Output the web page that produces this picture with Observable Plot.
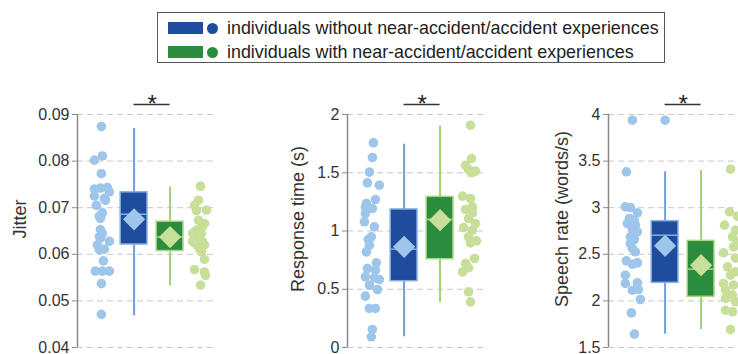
<!DOCTYPE html>
<html><head><meta charset="utf-8">
<script src="https://cdn.jsdelivr.net/npm/d3@7"></script>
<script src="https://cdn.jsdelivr.net/npm/@observablehq/plot@0.6"></script>
<style>
body{margin:0;background:#fff;}
#root{position:relative;width:738px;height:354px;overflow:hidden;font-family:"Liberation Sans",Arial,sans-serif;color:#222;}
#legend{position:absolute;left:157px;top:12px;width:508px;height:51px;box-sizing:border-box;border:1.5px solid #555;}
.lrow{position:absolute;left:0;height:14px;}
.lrect{position:absolute;left:10px;width:35px;height:12px;}
.ldot{position:absolute;left:49px;width:11px;height:11px;border-radius:50%;}
.ltxt{position:absolute;left:69px;top:-4px;font-size:17.9px;white-space:nowrap;line-height:20px;}
.panel{position:absolute;top:80px;width:222px;height:274px;}
.panel svg{max-width:none !important;}
</style></head>
<body><div id="root">
<div id="legend"></div>
</div>
<script>
// ---------- data ----------
const groups = ["individuals without near-accident/accident experiences", "individuals with near-accident/accident experiences"];
const yLabels = ["Jitter", "Response time (s)", "Speech rate (words/s)"];
const jitterTicks = [0.04, 0.05, 0.06, 0.07, 0.08, 0.09];
const responseTicks = [0, 0.5, 1, 1.5, 2];
const speechTicks = [1.5, 2, 2.5, 3, 3.5, 4];

// stats: [min, q1, median, q3, max, mean]
const jitterStatsWithout = [0.0468, 0.0621, 0.0686, 0.0733, 0.0870, 0.0675];
const jitterStatsWith = [0.0532, 0.0607, 0.0637, 0.0670, 0.0745, 0.0637];
const responseStatsWithout = [0.092, 0.569, 0.844, 1.185, 1.745, 0.864];
const responseStatsWith = [0.386, 0.758, 1.099, 1.293, 1.90, 1.093];
const speechStatsWithout = [1.643, 2.194, 2.705, 2.855, 3.385, 2.591];
const speechStatsWith = [1.693, 2.044, 2.341, 2.644, 3.40, 2.383];
const speechOutliersWithout = [3.939];

// individual values
const jitterWithout = [0.0874,0.0802,0.0811,0.0773,0.0740,0.0742,0.0743,0.0734,0.0725,0.0720,0.0716,0.0705,0.0689,0.0682,0.0677,0.0653,0.0645,0.0638,0.0635,0.0628,0.0620,0.0611,0.0610,0.0586,0.0564,0.0564,0.0564,0.0537,0.0471];
const jitterWith = [0.0746,0.0716,0.0705,0.0695,0.0694,0.0673,0.0666,0.0660,0.0652,0.0645,0.0645,0.0634,0.0627,0.0627,0.0620,0.0620,0.0612,0.0605,0.0589,0.0567,0.0562,0.0555,0.0534];
const responseWithout = [1.757,1.631,1.505,1.413,1.393,1.270,1.236,1.207,1.193,1.150,1.079,1.036,0.950,0.927,0.878,0.821,0.727,0.678,0.664,0.607,0.598,0.584,0.535,0.498,0.441,0.335,0.335,0.155,0.092];
const responseWith = [1.908,1.622,1.565,1.528,1.514,1.500,1.299,1.279,1.207,1.185,1.156,1.107,1.064,1.030,1.007,0.950,0.916,0.898,0.764,0.721,0.684,0.649,0.478,0.392];
const speechWithout = [3.939,3.385,3.009,3.002,2.945,2.884,2.859,2.830,2.812,2.766,2.741,2.687,2.659,2.616,2.562,2.527,2.430,2.408,2.394,2.276,2.187,2.194,2.115,2.122,2.015,1.872,1.643];
const speechWith = [3.413,2.956,2.909,2.813,2.759,2.687,2.634,2.580,2.516,2.459,2.366,2.312,2.276,2.187,2.169,2.115,2.062,2.026,1.990,1.900,1.883,1.693];

// horizontal jitter of each dot (pixels)
const jitterWithoutDx = [0,-7,1,0,-7,-1,6,8,-7,3,4,-5,1,-2,-1,-1,1,-2,-1,8,-4,3,-2,2,-6,8,1,0,0];
const jitterWithDx = [1,-1,-5,7,-3,-1,5,3,-3,-7,2,-5,-7,3,-3,5,0,2,5,-5,5,6,1];
const responseWithoutDx = [2,1,-2,-4,8,4,-5,-6,1,-6,-7,3,0,-3,-2,-5,5,-4,4,-6,3,8,-2,6,-6,-2,4,1,0];
const responseWithDx = [1,2,-4,-1,6,2,-7,1,3,-4,3,-1,6,-6,3,-1,7,1,5,-4,-1,-7,-1,1];
const speechWithoutDx = [0,-6,-7,-2,5,-3,2,-5,3,0,5,-2,2,-2,0,3,-6,5,0,-7,-7,5,0,6,8,-1,2];
const speechWithDx = [0,-1,7,-6,5,2,7,3,-7,5,-3,5,0,-7,3,-5,2,-5,5,-5,2,0];

// ---------- styling ----------
const C = {
  darkA: "#1f4c9c", lightA: "#9ec5ea", whiskA: "#759ddb", edgeA: "#86afe3",
  darkB: "#2a8c3c", lightB: "#c7df98", whiskB: "#a3d071", edgeB: "#a9d585"
};
const FONT = '"Liberation Sans", Arial, sans-serif';
const slots = [1, 2, 3.1, 4];        // dots A, box A, box B, dots B
const xDomain = [0.27, 4.55];
const W = 222, ML = 77, MR = 5;
const pxPerUnit = (W - ML - MR) / (xDomain[1] - xDomain[0]);
const halfBox = 0.41;

// legend
const leg = document.getElementById("legend");
[[C.darkA, 9], [C.darkB, 33]].forEach(([col, top], i) => {
  const row = document.createElement("div");
  row.className = "lrow"; row.style.top = top + "px";
  row.innerHTML = `<div class="lrect" style="background:${col}"></div><div class="ldot" style="background:${col};top:0.5px"></div><div class="ltxt">${groups[i]}</div>`;
  leg.appendChild(row);
});

function statObj(s, pos, dark, light, whisk, edge) {
  return {pos, min: s[0], q1: s[1], med: s[2], q3: s[3], max: s[4], mean: s[5], dark, light, whisk, edge};
}

function panel(label, ticks, statsA, statsB, valsA, dxA, valsB, dxB, outliersA, labelDx) {
  const domain = [ticks[0], ticks[ticks.length - 1]];
  const boxes = [
    statObj(statsA, slots[1], C.darkA, C.lightA, C.whiskA, C.edgeA),
    statObj(statsB, slots[2], C.darkB, C.lightB, C.whiskB, C.edgeB)
  ];
  const ptsA = valsA.map((v, i) => ({x: slots[0] + dxA[i] / pxPerUnit, v}));
  const ptsB = valsB.map((v, i) => ({x: slots[3] + dxB[i] / pxPerUnit, v}));
  return Plot.plot({
    width: W, height: 274, marginLeft: ML, marginRight: MR, marginTop: 34, marginBottom: 7,
    x: {domain: xDomain, axis: null},
    y: {domain},
    style: {fontFamily: FONT, background: "transparent", overflow: "visible"},
    marks: [
      Plot.gridY(ticks, {stroke: "#c8c8c8", strokeOpacity: 1, strokeDasharray: "6,4"}),
      Plot.ruleX([xDomain[0]], {y1: domain[0], y2: domain[1], stroke: "#8a8a8a", strokeWidth: 1.5}),
      Plot.axisY({ticks, tickFormat: d => String(d), tickSize: 5, tickPadding: 3, stroke: "#8a8a8a", fill: "#333", fontSize: 16, label: null}),
      Plot.text([label], {frameAnchor: "left", textAnchor: "middle", lineAnchor: "middle", rotate: -90, dx: labelDx, dy: -12, fontSize: 18, fill: "#333"}),
      Plot.dot(ptsA, {x: "x", y: "v", r: 4.8, fill: C.lightA}),
      Plot.dot(ptsB, {x: "x", y: "v", r: 4.8, fill: C.lightB}),
      Plot.ruleX(boxes, {x: "pos", y1: "min", y2: "max", stroke: "whisk", strokeWidth: 2}),
      Plot.rect(boxes, {x1: d => d.pos - halfBox, x2: d => d.pos + halfBox, y1: "q1", y2: "q3", fill: "dark", stroke: "edge", strokeWidth: 1.5}),
      Plot.ruleY(boxes, {y: "med", x1: d => d.pos - halfBox, x2: d => d.pos + halfBox, stroke: "edge", strokeWidth: 1.5}),
      Plot.dot(boxes, {x: "pos", y: "mean", symbol: "diamond2", r: 10, fill: "light"}),
      Plot.dot(outliersA, {x: slots[1], y: d => d, r: 4.8, fill: C.lightA}),
      Plot.ruleY([domain[1]], {x1: slots[1], x2: slots[2], dy: -10, stroke: "#333", strokeWidth: 1.5}),
      Plot.text(["*"], {x: (slots[1] + slots[2]) / 2, y: domain[1], dy: -3, lineAnchor: "bottom", fontSize: 24, fill: "#222"})
    ]
  });
}

const root = document.getElementById("root");
const panels = [
  [panel(yLabels[0], jitterTicks, jitterStatsWithout, jitterStatsWith, jitterWithout, jitterWithoutDx, jitterWith, jitterWithDx, [], -57), 0],
  [panel(yLabels[1], responseTicks, responseStatsWithout, responseStatsWith, responseWithout, responseWithoutDx, responseWith, responseWithDx, [], -49), 270],
  [panel(yLabels[2], speechTicks, speechStatsWithout, speechStatsWith, speechWithout, speechWithoutDx, speechWith, speechWithDx, speechOutliersWithout, -46), 531]
];
panels.forEach(([svg, left]) => {
  const d = document.createElement("div");
  d.className = "panel"; d.style.left = left + "px";
  svg.style.maxWidth = "none";
  d.appendChild(svg);
  root.appendChild(d);
});
</script>
</body></html>
